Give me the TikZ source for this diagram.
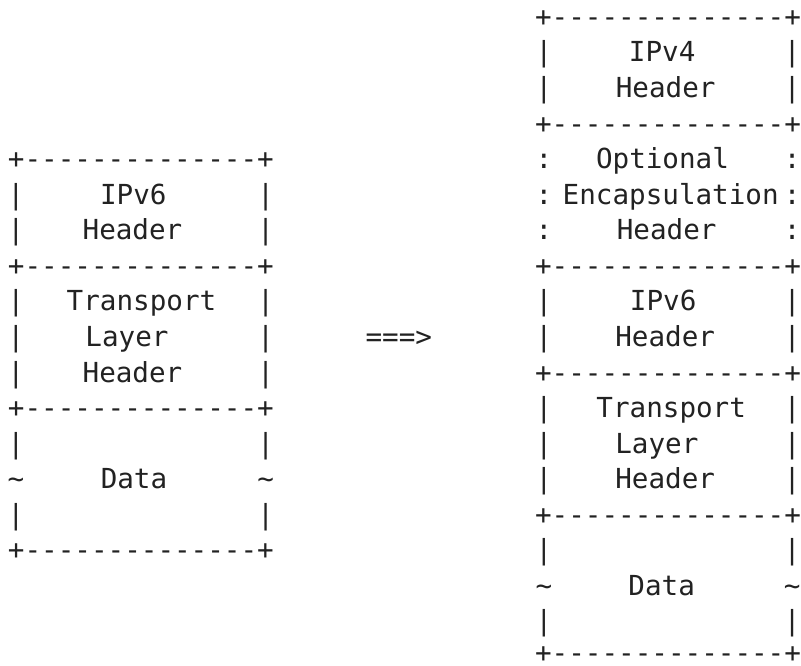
\documentclass[tikz,border=0pt]{standalone}
\usepackage{fontspec}
\setmonofont{DejaVu Sans Mono}
\definecolor{ink}{HTML}{222222}
\begin{document}
\begin{tikzpicture}[x=1pt,y=-1pt,
  t/.style={font=\ttfamily\fontsize{27.6}{33}\selectfont, text=ink, inner sep=0pt, anchor=base}]
\useasboundingbox (0,0) rectangle (801,666);
% ---------- left packet ----------
\foreach \r/\y in {4/168.64,7/275.32,11/417.56,15/559.8}
  \node[t] (lb\r) at (140.9,\y) {+--------------+};
\foreach \r/\y/\c in {5/204.2/|,6/239.76/|,8/310.88/|,9/346.44/|,10/382.0/|,12/453.12/|,13/488.68/\textasciitilde,14/524.24/|}{
  \node[t] (ll\r) at (16,\y) {\c};
  \node[t] (lr\r) at (265.8,\y) {\c};
}
\node[t] (lipv6)   at (133.3,204.2)  {IPv6};
\node[t] (lhdr1)   at (132.5,239.76) {Header};
\node[t] (ltrans)  at (141.5,310.88) {Transport};
\node[t] (llayer)  at (127,346.44)   {Layer};
\node[t] (lhdr2)   at (132.5,382.0)  {Header};
\node[t] (ldata)   at (134,488.68)   {Data};
% ---------- arrow ----------
\node[t] (arrow) at (398.8,346.44) {===>};
% ---------- right packet ----------
\begin{scope}[xshift=-2.8pt]
\foreach \r/\y in {0/26.4,3/133.08,7/275.32,10/382.0,14/524.24,18/662.5}
  \node[t] (rb\r) at (670.85,\y) {+--------------+};
\foreach \r/\y/\c in {1/61.96/|,2/97.52/|,4/168.64/:,5/204.2/:,6/239.76/:,8/310.88/|,9/346.44/|,11/417.56/|,12/453.12/|,13/488.68/|,15/559.8/|,16/595.36/\textasciitilde,17/630.92/|}{
  \node[t] (rl\r) at (546.7,\y) {\c};
  \node[t] (rr\r) at (795,\y) {\c};
}
\node[t] (ripv4)  at (665,61.96)    {IPv4};
\node[t] (rhdr1)  at (668.5,97.52)  {Header};
\node[t] (ropt)   at (665.3,168.64) {Optional};
\node[t] (renc)   at (673.5,204.2)  {Encapsulation};
\node[t] (rhdr2)  at (669.5,239.76) {Header};
\node[t] (ripv6)  at (666,310.88)   {IPv6};
\node[t] (rhdr3)  at (668,346.44)   {Header};
\node[t] (rtrans) at (674,417.56)   {Transport};
\node[t] (rlayer) at (659.7,453.12) {Layer};
\node[t] (rhdr4)  at (668,488.68)   {Header};
\node[t] (rdata)  at (664.5,595.36) {Data};
\end{scope}
\end{tikzpicture}
\end{document}
